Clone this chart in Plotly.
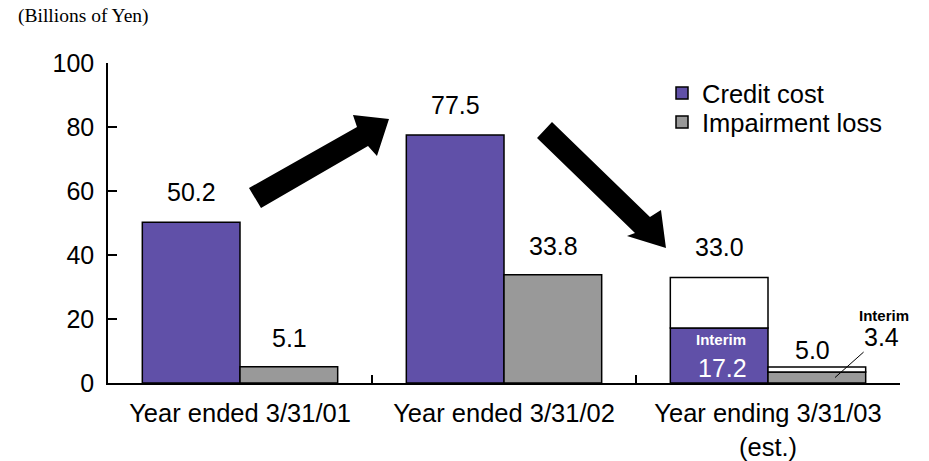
import plotly.graph_objects as go

# ---------------- data ----------------
categories = ["Year ended 3/31/01", "Year ended 3/31/02", "Year ending 3/31/03<br>(est.)"]
credit_cost = [50.2, 77.5, 33.0]          # full-year credit cost (last = estimate)
impairment_loss = [5.1, 33.8, 5.0]        # full-year impairment loss (last = estimate)
credit_interim = 17.2                     # interim part of the estimated year
impairment_interim = 3.4
credit_labels = ["50.2", "77.5", "33.0"]
impairment_labels = ["5.1", "33.8", "5.0"]
y_ticks = [0, 20, 40, 60, 80, 100]

PURPLE = "rgb(96,80,168)"
GREY = "rgb(153,153,153)"
FONT = "Arial, Liberation Sans, sans-serif"

# plot area in pixels (for decorative shapes only)
L, R, T, B = 108, 900, 63, 383


def P(x, y):
    return (x - L) / (R - L), (B - y) / (B - T)


def poly(points):
    parts = []
    for i, (x, y) in enumerate(points):
        px, py = P(x, y)
        parts.append(("M" if i == 0 else "L") + f"{px:.4f},{py:.4f}")
    return " ".join(parts) + " Z"


credit_bar_vals = credit_cost[:2] + [credit_interim]
imp_bar_vals = impairment_loss[:2] + [impairment_interim]

fig = go.Figure()
fig.add_trace(go.Bar(
    name="Credit cost", x=categories, y=credit_bar_vals, offsetgroup="c", legend="legend",
    marker=dict(color=PURPLE, line=dict(color="black", width=1.5)),
))
fig.add_trace(go.Bar(
    name="Impairment loss", x=categories, y=imp_bar_vals, offsetgroup="i", legend="legend2",
    marker=dict(color=GREY, line=dict(color="black", width=1.5)),
))
fig.add_trace(go.Bar(
    x=[categories[2]], y=[credit_cost[2] - credit_interim], base=[credit_interim],
    offsetgroup="c", showlegend=False,
    marker=dict(color="white", line=dict(color="black", width=1.5)),
))
fig.add_trace(go.Bar(
    x=[categories[2]], y=[impairment_loss[2] - impairment_interim], base=[impairment_interim],
    offsetgroup="i", showlegend=False,
    marker=dict(color="white", line=dict(color="black", width=1.5)),
))

ann = []
# value labels
for i in range(3):
    ann.append(dict(x=categories[i], y=credit_cost[i], text=credit_labels[i], xshift=-49,
                    yshift=30, showarrow=False, yanchor="middle",
                    font=dict(size=25, color="black", family=FONT)))
for i in range(2):
    ann.append(dict(x=categories[i], y=impairment_loss[i], text=impairment_labels[i], xshift=49,
                    yshift=29, showarrow=False, yanchor="middle",
                    font=dict(size=25, color="black", family=FONT)))
ann.append(dict(x=categories[2], y=impairment_loss[2], text=impairment_labels[2], xshift=44,
                yshift=17, showarrow=False, yanchor="middle",
                font=dict(size=25, color="black", family=FONT)))
# interim labels inside the purple bar
ann.append(dict(x=categories[2], y=credit_interim, text="<b>Interim</b>", xshift=-47,
                yshift=-12, showarrow=False, yanchor="middle",
                font=dict(size=15, color="white", family=FONT)))
ann.append(dict(x=categories[2], y=credit_interim, text=f"{credit_interim}", xshift=-46,
                yshift=-40, showarrow=False, yanchor="middle",
                font=dict(size=25, color="white", family=FONT)))
# interim impairment with leader line
ann.append(dict(x=categories[2], y=impairment_interim / 2, text=f"{impairment_interim}",
                xshift=67, showarrow=True, arrowhead=0, arrowwidth=1, arrowcolor="black",
                ax=46, ay=-41, standoff=0,
                font=dict(size=25, color="black", family=FONT)))
ann.append(dict(x=categories[2], y=impairment_interim, text="<b>Interim</b>", xshift=116,
                yshift=57, showarrow=False, yanchor="middle",
                font=dict(size=15, color="black", family=FONT)))
# unit label
ann.append(dict(xref="paper", yref="paper", x=P(16, 0)[0], y=P(0, 16)[1],
                text="(Billions of Yen)", showarrow=False, xanchor="left", yanchor="middle",
                font=dict(size=19.5, color="black", family="Liberation Serif, serif")))

shapes = [
    dict(type="path", xref="paper", yref="paper", fillcolor="black", line=dict(width=0),
         path=poly([(249, 188), (357, 127), (353, 115), (389, 119), (377, 156),
                    (368, 146), (261, 208)])),
    dict(type="path", xref="paper", yref="paper", fillcolor="black", line=dict(width=0),
         path=poly([(552, 122), (650, 217), (661, 210), (666, 248), (627, 236),
                    (635, 233), (537, 138)])),
]

legend_common = dict(xanchor="left", yanchor="top", bgcolor="rgba(0,0,0,0)",
                     font=dict(size=25.5, family=FONT, color="black"))

fig.update_layout(
    width=929, height=461,
    margin=dict(l=L, r=929 - R, t=T, b=461 - B, autoexpand=False),
    paper_bgcolor="white", plot_bgcolor="white",
    barmode="group", bargap=0.26,
    font=dict(family=FONT, size=25, color="black"),
    showlegend=True,
    legend=dict(x=P(662, 0)[0], y=P(0, 70)[1], **legend_common),
    legend2=dict(x=P(662, 0)[0], y=P(0, 99)[1], **legend_common),
    annotations=ann,
    shapes=shapes,
    xaxis=dict(range=[-0.5, 2.5], autorange=False, showline=True, linecolor="black",
               linewidth=1.5, ticks="inside",
               tickson="boundaries", ticklen=8, tickcolor="black", tickwidth=1.5,
               showgrid=False, automargin=False, ticklabelstandoff=7,
               tickfont=dict(size=25.5, family=FONT)),
    yaxis=dict(range=[0, 100], tickvals=y_ticks, showline=True, linecolor="black",
               linewidth=1.5, ticks="inside", ticklen=9, tickcolor="black", tickwidth=1.5,
               showgrid=False, zeroline=False, automargin=False, ticklabelstandoff=7,
               tickfont=dict(size=25, family=FONT)),
)

fig.write_html("out.html")
